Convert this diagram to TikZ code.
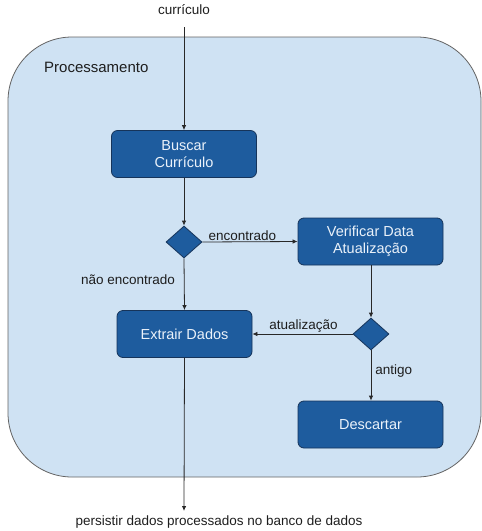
\documentclass[tikz,border=0pt]{standalone}
\usepackage{fontspec}
\setmainfont{Liberation Sans}
\usetikzlibrary{arrows.meta,shapes.geometric}
\definecolor{boxblue}{RGB}{30,92,158}
\definecolor{boxedge}{RGB}{22,52,90}
\definecolor{boxtext}{RGB}{235,242,250}
\definecolor{areafill}{RGB}{207,226,243}
\definecolor{areaedge}{RGB}{100,100,100}
\definecolor{linecol}{RGB}{40,40,40}
\definecolor{labeltext}{RGB}{30,30,30}
\tikzset{
  stepbox/.style={draw=boxedge, fill=boxblue, rounded corners=6pt, line width=0.8pt,
    text=boxtext, minimum width=145pt, minimum height=47pt, align=center,
    font=\fontsize{14.5pt}{17pt}\selectfont, inner sep=0pt},
  choice/.style={draw=boxedge, fill=boxblue, diamond, aspect=1.125,
    minimum width=36pt, minimum height=32pt, inner sep=0pt, line width=0.8pt},
  flow/.style={draw=linecol, line width=0.8pt, -{Latex[length=5pt,width=4.5pt]}},
  lbl/.style={font=\fontsize{13.5pt}{16pt}\selectfont, text=labeltext, inner sep=1pt}
}
\begin{document}
\begin{tikzpicture}[x=1pt,y=-1pt]
  \useasboundingbox (0,0) rectangle (482,531);
  % processing area
  \draw[draw=areaedge, fill=areafill, line width=0.8pt, rounded corners=64pt]
    (8,37) rectangle (481,477);
  \node[lbl, anchor=west, font=\fontsize{15pt}{18pt}\selectfont] (area) at (43,67) {Processamento};

  % activities
  \node[stepbox] (buscar) at (184,154) {Buscar\\Currículo};
  \node[choice] (d1) at (184,242) {};
  \node[stepbox] (verif) at (370.5,241.5) {Verificar Data\\Atualização};
  \node[stepbox, minimum width=135pt] (extrair) at (184.5,334) {Extrair Dados};
  \node[choice] (d2) at (371,334) {};
  \node[stepbox] (desc) at (370.5,424.5) {Descartar};

  % input and output
  \node[lbl] (inp) at (184,10) {currículo};
  \coordinate (inpEnd) at (184,27);
  \coordinate (outEnd) at (184,511);
  \node[lbl] (out) at (219,522) {persistir dados processados no banco de dados};

  % connectors
  \draw[flow] (inpEnd) -- (buscar.north);
  \draw[flow] (buscar) -- (d1.north);
  \draw[flow] (d1.east) -- node[lbl, above, pos=0.42] {encontrado} (verif.west);
  \draw[flow] (d1.south) -- (extrair.north);
  \node[lbl] (nenc) at (128,280) {não encontrado};
  \draw[flow] (verif.south -| d2) -- (d2.north);
  \draw[flow] (d2.west) -- node[lbl, above, pos=0.49] {atualização} (extrair.east);
  \draw[flow] (d2.south) -- node[lbl, right, pos=0.42, xshift=3pt] {antigo} (desc.north -| d2);
  \draw[flow] (extrair.south) -- (outEnd);
\end{tikzpicture}
\end{document}
